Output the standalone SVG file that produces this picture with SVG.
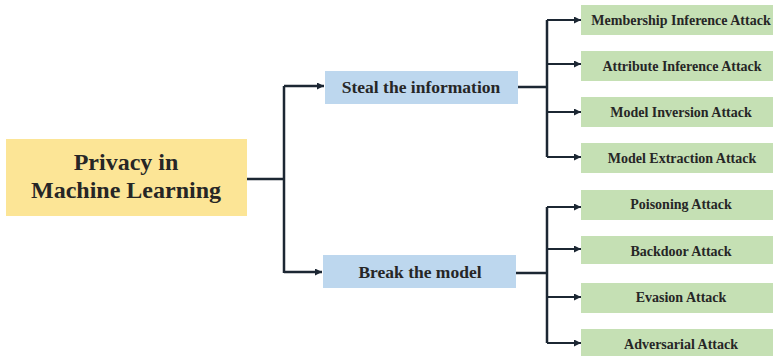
<svg xmlns="http://www.w3.org/2000/svg" width="774" height="356" viewBox="0 0 774 356">
<defs>
<marker id="ah" viewBox="0 0 10 10" refX="10" refY="5" markerWidth="8" markerHeight="7" markerUnits="userSpaceOnUse" orient="auto">
<path d="M0,0 L10,5 L0,10 z" fill="#1c2733"/>
</marker>
<style>
.ln{fill:none;stroke:#1c2733;stroke-width:2.5}
.br{fill:none;stroke:#1c2733;stroke-width:2}
.t{font-family:"Liberation Serif","Times New Roman",serif;font-weight:bold;fill:#262626;text-anchor:middle}
.root{fill:#fce596}
.mid{fill:#bdd7ee}
.leaf{fill:#c5e0b4}
</style>
</defs>
<rect width="774" height="356" fill="#ffffff"/>
<g id="connectors">
<path class="ln" d="M247,179 H284 M284,86 V273"/>
<path class="ln" d="M284,86 H324" marker-end="url(#ah)"/>
<path class="ln" d="M284,272 H322" marker-end="url(#ah)"/>
<path class="ln" d="M518,87 H547 M547,20 V157"/>
<path class="br" d="M547,20 H581" marker-end="url(#ah)"/>
<path class="br" d="M547,64 H581" marker-end="url(#ah)"/>
<path class="br" d="M547,112 H581" marker-end="url(#ah)"/>
<path class="br" d="M547,157 H581" marker-end="url(#ah)"/>
<path class="ln" d="M516,273 H547 M547,207 V343"/>
<path class="br" d="M547,207 H581" marker-end="url(#ah)"/>
<path class="br" d="M547,249 H581" marker-end="url(#ah)"/>
<path class="br" d="M547,297 H581" marker-end="url(#ah)"/>
<path class="br" d="M547,343 H581" marker-end="url(#ah)"/>
</g>
<g id="root">
<rect class="root" x="6" y="139" width="241" height="77"/>
<text class="t" x="126" y="170" font-size="24">Privacy in</text>
<text class="t" x="126" y="198" font-size="24">Machine Learning</text>
</g>
<g id="steal">
<rect class="mid" x="325" y="71" width="193" height="33"/>
<text class="t" x="421" y="93" font-size="17.5">Steal the information</text>
</g>
<g id="break">
<rect class="mid" x="323" y="255" width="193" height="33"/>
<text class="t" x="420" y="278" font-size="17.5">Break the model</text>
</g>
<g id="membership">
<rect class="leaf" x="581" y="5" width="192" height="30"/>
<text class="t" x="681" y="25" font-size="14">Membership Inference Attack</text>
</g>
<g id="attribute">
<rect class="leaf" x="581" y="51" width="192" height="30"/>
<text class="t" x="682" y="71" font-size="14">Attribute Inference Attack</text>
</g>
<g id="inversion">
<rect class="leaf" x="581" y="97" width="192" height="30"/>
<text class="t" x="681" y="117" font-size="14">Model Inversion Attack</text>
</g>
<g id="extraction">
<rect class="leaf" x="581" y="143" width="192" height="30"/>
<text class="t" x="682" y="163" font-size="14">Model Extraction Attack</text>
</g>
<g id="poisoning">
<rect class="leaf" x="581" y="190" width="192" height="30"/>
<text class="t" x="681" y="209" font-size="14">Poisoning Attack</text>
</g>
<g id="backdoor">
<rect class="leaf" x="581" y="236" width="192" height="28"/>
<text class="t" x="681" y="256" font-size="14">Backdoor Attack</text>
</g>
<g id="evasion">
<rect class="leaf" x="581" y="283" width="192" height="30"/>
<text class="t" x="681" y="302" font-size="14">Evasion Attack</text>
</g>
<g id="adversarial">
<rect class="leaf" x="581" y="329" width="192" height="27"/>
<text class="t" x="681" y="349" font-size="14">Adversarial Attack</text>
</g>
</svg>
